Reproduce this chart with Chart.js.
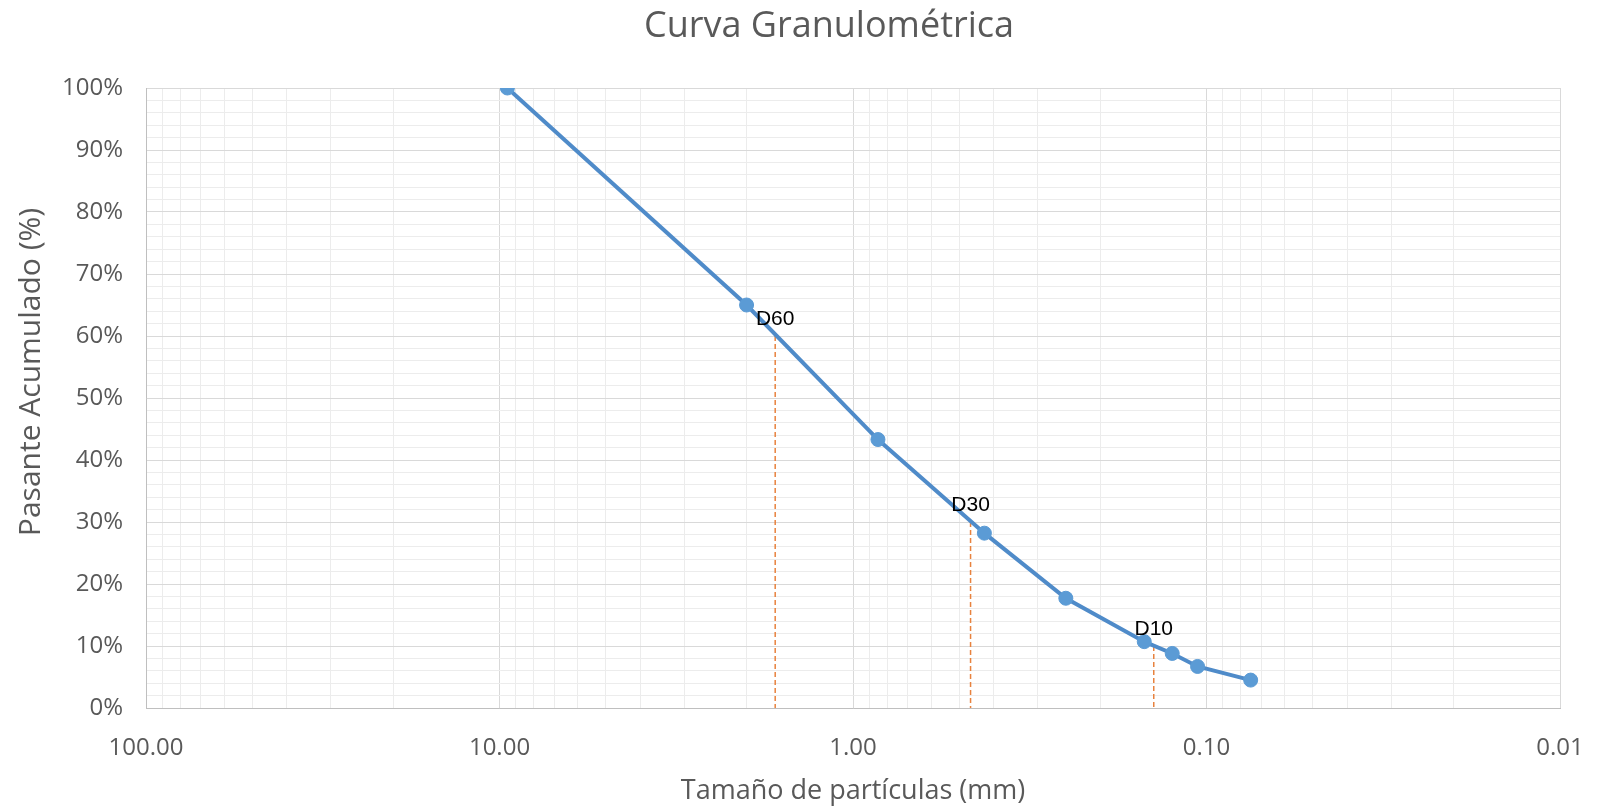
<!DOCTYPE html>
<html>
<head>
<meta charset="utf-8">
<title>Curva Granulométrica</title>
<script src="https://cdn.jsdelivr.net/npm/chart.js@4.4.1/dist/chart.umd.min.js"></script>
<style>
  html, body { margin: 0; padding: 0; background: #ffffff; }
  canvas { display: block; }
</style>
</head>
<body>
<canvas id="granulometria" width="1604" height="810"></canvas>
<script>
// Sieve openings (mm) and cumulative percent passing
const sieveSizes = [9.5, 2.0, 0.85, 0.425, 0.25, 0.15, 0.125, 0.106, 0.075];
const percentPassing = [100, 65.0, 43.3, 28.2, 17.7, 10.7, 8.8, 6.7, 4.5];

// Characteristic diameters
const dNames = ["D60", "D30", "D10"];
const dPercents = [60, 30, 10];
const dSizes = [1.66, 0.465, 0.141];

// Axis ticks
const xTickValues = [100, 10, 1, 0.1, 0.01];
const xTickLabels = ["100.00", "10.00", "1.00", "0.10", "0.01"];
const yTickValues = [0, 10, 20, 30, 40, 50, 60, 70, 80, 90, 100];
const yTickLabels = ["0%", "10%", "20%", "30%", "40%", "50%", "60%", "70%", "80%", "90%", "100%"];

const chartTitle = "Curva Granulométrica";
const yTitle = "Pasante Acumulado (%)";
const xTitle = "Tamaño de partículas (mm)";

const textGray = "#595959";
const majorGrid = "#d9d9d9";
const minorGrid = "#ececec";

function isDecade(v) {
    const l = Math.log10(v);
    return Math.abs(l - Math.round(l)) < 1e-6;
}

function xLabelFor(v) {
    for (let i = 0; i < xTickValues.length; i++) {
        if (Math.abs(v - xTickValues[i]) < xTickValues[i] * 1e-6) return xTickLabels[i];
    }
    return "";
}

const curveData = sieveSizes.map((s, i) => ({ x: s, y: percentPassing[i] }));

const dDatasets = dNames.map((name, i) => ({
    label: name,
    data: [{ x: dSizes[i], y: dPercents[i] }, { x: dSizes[i], y: 0 }],
    borderColor: "#e8823e",
    borderWidth: 1.5,
    borderDash: [5, 3],
    pointRadius: 0,
    fill: false,
    order: 2
}));

// Writes D60 / D30 / D10 above each dashed marker
const dLabelPlugin = {
    id: "dLabels",
    afterDatasetsDraw(chart) {
        const ctx = chart.ctx;
        const xs = chart.scales.x;
        const ys = chart.scales.y;
        ctx.save();
        ctx.font = "21px 'Liberation Sans', Arial, sans-serif";
        ctx.fillStyle = "#000000";
        ctx.textAlign = "center";
        ctx.textBaseline = "middle";
        dNames.forEach((name, i) => {
            const px = xs.getPixelForValue(dSizes[i]);
            const py = ys.getPixelForValue(dPercents[i]) - 17;
            ctx.fillText(name, px, py);
        });
        ctx.restore();
    }
};

// Chart title and the vertical axis title, placed by hand
const titlesPlugin = {
    id: "titles",
    afterDraw(chart) {
        const ctx = chart.ctx;
        ctx.save();
        ctx.fillStyle = textGray;
        ctx.textAlign = "center";
        ctx.textBaseline = "middle";
        ctx.font = "36px 'Open Sans', sans-serif";
        ctx.fillText(chartTitle, 829, 27);
        ctx.translate(31, 372);
        ctx.rotate(-Math.PI / 2);
        ctx.font = "30px 'Open Sans', sans-serif";
        ctx.fillText(yTitle, 0, 0);
        ctx.restore();
    }
};

const whiteBg = {
    id: "whiteBg",
    beforeDraw(chart) {
        const ctx = chart.ctx;
        ctx.save();
        ctx.fillStyle = "#ffffff";
        ctx.fillRect(0, 0, chart.width, chart.height);
        ctx.restore();
    }
};

new Chart(document.getElementById("granulometria").getContext("2d"), {
    type: "line",
    data: {
        datasets: [
            {
                label: "Pasante",
                data: curveData,
                borderColor: "#4f8bc9",
                backgroundColor: "#5b9bd5",
                pointBackgroundColor: "#5b9bd5",
                pointBorderColor: "#5b9bd5",
                borderWidth: 4,
                pointRadius: 7,
                pointBorderWidth: 1,
                tension: 0,
                fill: false,
                order: 1
            },
            ...dDatasets
        ]
    },
    options: {
        responsive: false,
        animation: false,
        layout: { padding: { left: 0, right: 44, top: 88, bottom: 0 } },
        plugins: {
            legend: { display: false },
            tooltip: { enabled: false },
            title: { display: false }
        },
        scales: {
            x: {
                type: "logarithmic",
                reverse: true,
                min: 0.01,
                max: 100,
                afterBuildTicks(scale) {
                    const ticks = [];
                    for (let e = -2; e <= 1; e++) {
                        const base = Math.pow(10, e);
                        for (let k = 1; k <= 9; k++) {
                            ticks.push({ value: Number((k * base).toPrecision(6)) });
                        }
                    }
                    ticks.push({ value: 100 });
                    scale.ticks = ticks;
                },
                afterFit(scale) { scale.height = 102; },
                ticks: {
                    autoSkip: false,
                    maxRotation: 0,
                    padding: 26,
                    color: textGray,
                    font: { family: "'Open Sans', sans-serif", size: 24 },
                    callback: (v) => xLabelFor(v)
                },
                grid: {
                    drawTicks: false,
                    color: (c) => (c.tick && isDecade(c.tick.value) ? majorGrid : minorGrid),
                    lineWidth: 1
                },
                border: { color: "#bfbfbf", width: 1 },
                title: {
                    display: true,
                    text: xTitle,
                    color: textGray,
                    font: { family: "'Open Sans', sans-serif", size: 27 },
                    padding: { top: 0, bottom: 2 }
                }
            },
            y: {
                type: "linear",
                min: 0,
                max: 100,
                afterBuildTicks(scale) {
                    const ticks = [];
                    for (let v = 0; v <= 100; v += 2) ticks.push({ value: v });
                    scale.ticks = ticks;
                },
                afterFit(scale) { scale.width = 146; },
                ticks: {
                    autoSkip: false,
                    padding: 23,
                    color: textGray,
                    font: { family: "'Open Sans', sans-serif", size: 24 },
                    callback: (v) => {
                        const i = yTickValues.indexOf(v);
                        return i >= 0 ? yTickLabels[i] : "";
                    }
                },
                grid: {
                    drawTicks: false,
                    color: (c) => (c.tick && c.tick.value % 10 === 0 ? majorGrid : minorGrid),
                    lineWidth: 1
                },
                border: { color: "#bfbfbf", width: 1 }
            }
        }
    },
    plugins: [whiteBg, dLabelPlugin, titlesPlugin]
});
</script>
</body>
</html>
